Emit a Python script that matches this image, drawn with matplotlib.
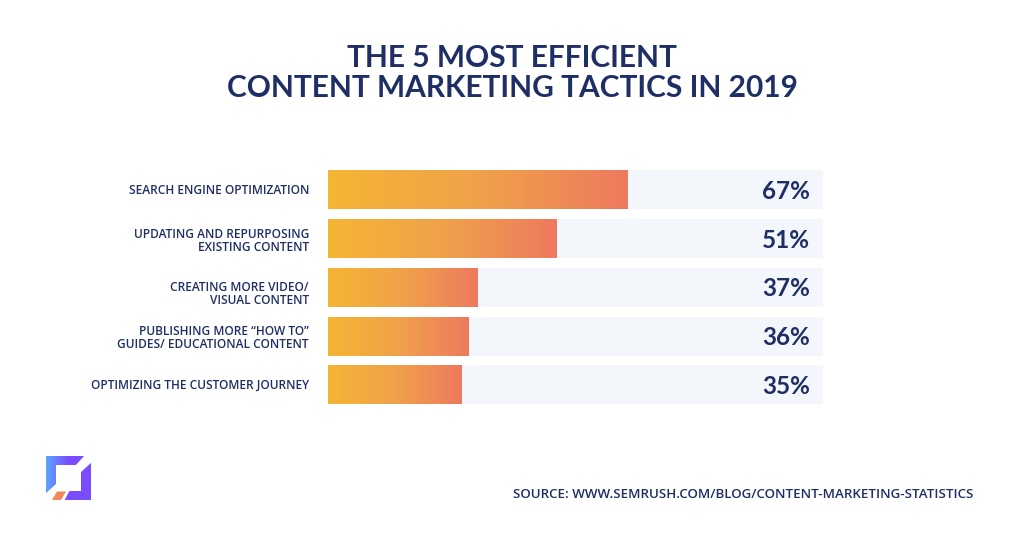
import numpy as np
import matplotlib
matplotlib.use("Agg")
import matplotlib.pyplot as plt
from matplotlib.colors import LinearSegmentedColormap
from matplotlib.patches import Polygon

categories = ["SEARCH ENGINE OPTIMIZATION",
              "UPDATING AND REPURPOSING\nEXISTING CONTENT",
              "CREATING MORE VIDEO/\nVISUAL CONTENT",
              "PUBLISHING MORE “HOW TO”\nGUIDES/ EDUCATIONAL CONTENT",
              "OPTIMIZING THE CUSTOMER JOURNEY"]
value_labels = ["67%", "51%", "37%", "36%", "35%"]
# bar lengths as drawn in the picture, share of the full track
drawn_lengths = [60.6, 46.1, 30.3, 28.3, 27.0]
track_length = 100
label_nudge = [0.0, 0.03, 0.12, 0.035, 0.0]

NAVY = "#1f2f66"
W, H = 1024, 536
fig = plt.figure(figsize=(W/100, H/100), dpi=100, facecolor="white")

def px_axes(x0, y0, x1, y1):
    return fig.add_axes([x0/W, 1-y1/H, (x1-x0)/W, (y1-y0)/H])

ax = px_axes(328, 165.6, 823, 409.1)
ax.set_xlim(0, track_length)
ax.set_ylim(4.5, -0.5)
ax.axis("off")
cmap = LinearSegmentedColormap.from_list("g", ["#f5b534", "#f0a24a", "#ee7a5e"])
grad = np.linspace(0, 1, 256).reshape(1, -1)
h = 0.8
ax.barh(range(5), [track_length]*5, height=h, color="#f3f6fa", zorder=1)
for i, (L, cat, val) in enumerate(zip(drawn_lengths, categories, value_labels)):
    ax.imshow(grad, cmap=cmap, aspect="auto", extent=(0, L, i+h/2, i-h/2), zorder=2)
    ax.text(-3.85, i+0.015+label_nudge[i], cat, ha="right", va="center", fontsize=8.55, color=NAVY,
            family="Open Sans", fontweight="semibold", linespacing=1.0)
    ax.text(92.5, i+0.03, val, ha="center", va="center", fontsize=17.5, color=NAVY,
            family="Lato", fontweight="bold")
ax.set_xlim(0, track_length)
ax.set_ylim(4.5, -0.5)

fig.text(512/W, 1-58/H, "THE 5 MOST EFFICIENT", ha="center", va="center", fontsize=21.5,
         color=NAVY, family="Lato", fontweight="bold")
fig.text(512/W, 1-88/H, "CONTENT MARKETING TACTICS IN 2019", ha="center", va="center",
         fontsize=21.5, color=NAVY, family="Lato", fontweight="bold")
fig.text(973/W, 1-494/H, "SOURCE: WWW.SEMRUSH.COM/BLOG/CONTENT-MARKETING-STATISTICS",
         ha="right", va="center", fontsize=9.6, color=NAVY, family="Open Sans",
         fontweight="semibold")

# logo
lg = fig.add_axes([0, 0, 1, 1], zorder=5)
lg.set_xlim(0, W); lg.set_ylim(H, 0); lg.axis("off"); lg.patch.set_alpha(0)
lcmap = LinearSegmentedColormap.from_list("l", ["#5aa5ff", "#7a4dff", "#7a4dff"])
outer = Polygon([(46, 456), (91, 456), (91, 500), (46, 500)], closed=True, transform=lg.transData, fc="none", ec="none")
lg.add_patch(outer)
im = lg.imshow(grad, cmap=lcmap, aspect="auto", extent=(46, 91, 500, 456), zorder=1)
im.set_clip_path(outer)
lg.add_patch(Polygon([(56, 465), (81, 465), (81, 491), (56, 491)], fc="white", ec="none", zorder=2))
lg.add_patch(Polygon([(85, 455), (92, 455), (92, 462), (81, 472), (75, 466)], fc="white", ec="none", zorder=2))
lg.add_patch(Polygon([(45, 494), (56, 484), (60, 491), (52, 501), (45, 501)], fc="white", ec="none", zorder=2))
lg.add_patch(Polygon([(52, 501), (57, 490), (70, 490), (64, 501)], fc="white", ec="none", zorder=2))
lg.add_patch(Polygon([(52, 500), (57, 491.5), (66, 491.5), (61, 500)], fc="#f0885a", ec="none", zorder=3))
lg.set_xlim(0, W); lg.set_ylim(H, 0)

fig.savefig("out.png", dpi=100, facecolor="white")
